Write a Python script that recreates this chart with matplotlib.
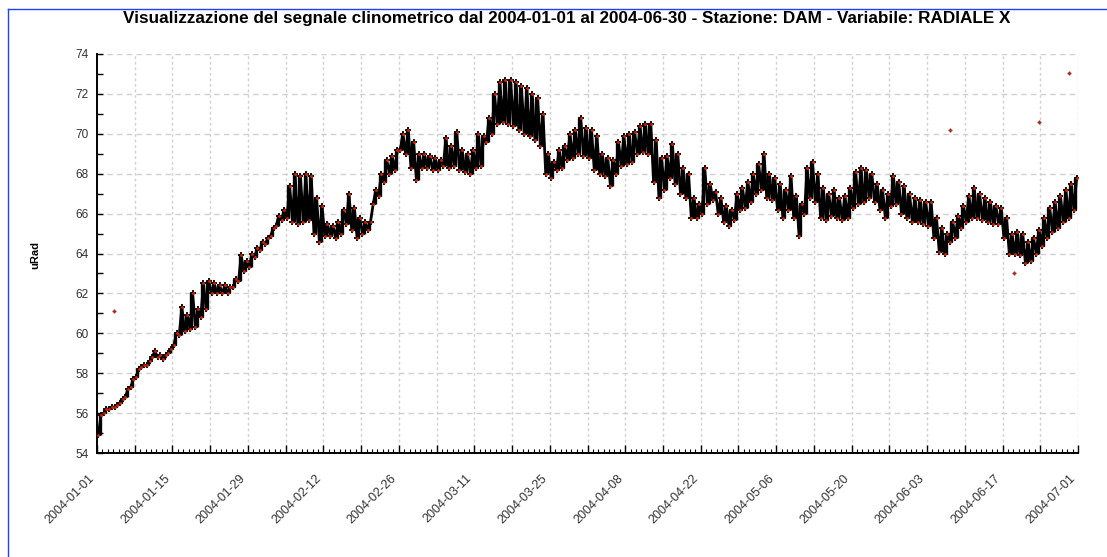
import numpy as np
import matplotlib
matplotlib.use("Agg")
import matplotlib.pyplot as plt
import matplotlib.dates as mdates
from matplotlib.lines import Line2D
from matplotlib.ticker import FixedLocator, MultipleLocator

plt.rcParams['font.family'] = ['Liberation Sans', 'DejaVu Sans']

# ---- data (daily low / high readings, uRad) ----
start_date = '2004-01-01'
day_low = [54.9, 56.0, 56.2, 56.3, 56.5, 56.8, 57.3, 57.8, 58.3, 58.4,
           58.8, 58.8, 58.7, 59.0, 59.4, 59.9, 60.1, 60.2, 60.3, 60.8,
           61.2, 62.0, 62.0, 62.0, 62.0, 62.3, 62.6, 63.1, 63.3, 63.8,
           64.2, 64.5, 64.9, 65.4, 65.7, 65.8, 65.6, 65.5, 65.6, 65.7,
           65.0, 64.6, 64.9, 64.9, 64.8, 65.0, 65.5, 65.2, 64.8, 65.0,
           65.2, 66.5, 66.9, 67.6, 68.0, 68.2, 69.2, 69.0, 68.3, 67.7,
           68.3, 68.3, 68.2, 68.2, 68.4, 68.3, 68.4, 68.2, 68.1, 68.0,
           68.3, 68.4, 69.6, 70.0, 70.5, 70.6, 70.5, 70.4, 70.2, 70.0,
           69.9, 69.7, 69.4, 68.0, 67.8, 68.2, 68.3, 68.7, 68.8, 69.0,
           68.9, 68.8, 68.2, 68.0, 67.9, 67.4, 68.0, 68.4, 68.5, 68.6,
           69.0, 69.1, 69.0, 67.6, 66.8, 67.2, 67.8, 67.5, 67.0, 66.8,
           65.8, 65.8, 66.0, 66.5, 66.7, 66.0, 65.6, 65.4, 65.7, 66.2,
           66.3, 66.6, 67.0, 67.2, 66.8, 66.7, 66.2, 65.8, 66.2, 65.8,
           64.9, 66.0, 66.8, 66.6, 65.8, 65.7, 65.9, 65.8, 65.7, 65.8,
           66.3, 66.5, 66.6, 66.8, 66.6, 66.2, 65.8, 66.4, 66.5, 66.0,
           65.8, 65.6, 65.6, 65.5, 65.4, 64.8, 64.1, 64.0, 64.6, 64.8,
           65.3, 65.6, 65.8, 65.8, 65.7, 65.6, 65.5, 65.5, 64.8, 64.0,
           64.0, 63.9, 63.5, 63.6, 64.0, 64.4, 64.8, 65.1, 65.3, 65.6,
           65.8, 66.2]
day_high = [55.9, 56.2, 56.3, 56.4, 56.7, 57.2, 57.7, 58.2, 58.4, 58.6,
            59.1, 58.9, 58.9, 59.2, 60.0, 61.3, 60.9, 62.0, 61.2, 62.5,
            62.6, 62.5, 62.4, 62.4, 62.3, 62.7, 63.9, 63.6, 64.0, 64.3,
            64.6, 64.8, 65.3, 65.9, 66.2, 67.4, 68.0, 67.9, 68.0, 67.9,
            66.8, 66.4, 65.5, 65.4, 65.6, 66.2, 67.0, 66.3, 65.8, 65.6,
            65.6, 67.2, 68.0, 68.7, 68.9, 69.2, 70.0, 70.2, 69.6, 69.0,
            69.0, 68.9, 68.8, 68.7, 69.8, 69.4, 70.1, 69.2, 69.0, 69.2,
            70.0, 69.9, 70.8, 72.0, 72.6, 72.7, 72.7, 72.6, 72.4, 72.3,
            72.0, 71.8, 71.0, 69.0, 68.6, 69.2, 69.4, 70.0, 70.2, 70.8,
            70.3, 70.2, 69.9, 69.0, 68.8, 68.7, 69.6, 69.9, 70.0, 70.1,
            70.4, 70.5, 70.5, 69.7, 68.8, 68.9, 69.5, 69.0, 68.3, 68.0,
            66.8, 66.5, 68.3, 67.5, 67.1, 66.8, 66.4, 66.2, 67.0, 67.3,
            67.6, 68.0, 68.5, 69.0, 68.0, 67.8, 67.5, 67.2, 67.9, 66.9,
            66.5, 68.3, 68.6, 68.0, 67.3, 67.0, 67.2, 66.8, 66.9, 67.3,
            68.1, 68.3, 68.2, 68.0, 67.5, 67.2, 67.0, 67.9, 67.6, 67.4,
            67.0, 66.8, 66.7, 66.6, 66.6, 65.8, 65.3, 65.0, 65.6, 65.9,
            66.4, 66.9, 67.3, 67.0, 66.8, 66.6, 66.4, 66.3, 65.8, 65.0,
            65.1, 65.0, 64.6, 64.8, 65.2, 65.8, 66.3, 66.6, 66.9, 67.2,
            67.5, 67.8]
outlier_times = ['2004-01-04T02:00', '2004-06-07T07:00', '2004-06-19T02:00',
                 '2004-06-23T19:00', '2004-06-29T07:00']
outlier_vals = [61.1, 70.2, 63.0, 70.6, 73.05]

title = ("Visualizzazione del segnale clinometrico dal 2004-01-01 al 2004-06-30 "
         "- Stazione: DAM - Variabile: RADIALE X")
ylabel = "uRad"

# ---- figure ----
W, H = 1107, 557
fig = plt.figure(figsize=(W / 100, H / 100), dpi=100)
ax = fig.add_axes([97 / W, 1 - 453 / H, (1078 - 97) / W, (453 - 54) / H])

t0 = np.datetime64(start_date)
n = len(day_low)
base = t0 + np.arange(n).astype('timedelta64[D]')
t_lo = mdates.date2num((base + np.timedelta64(6, 'h')).astype('datetime64[m]').astype(object))
t_hi = mdates.date2num((base + np.timedelta64(18, 'h')).astype('datetime64[m]').astype(object))
t_mid = mdates.date2num((base + np.timedelta64(12, 'h')).astype('datetime64[m]').astype(object))
lo = np.array(day_low)
hi = np.array(day_high)

# zig-zag through the daily low / high readings
zx = np.empty(2 * n)
zy = np.empty(2 * n)
zx[0::2], zx[1::2] = t_lo, t_hi
zy[0::2], zy[1::2] = lo, hi

ax.vlines(t_mid, lo, hi, colors='black', linewidth=2.4, zorder=3)
ax.plot(zx, zy, color='black', linewidth=2.0, zorder=3,
        solid_joinstyle='round', solid_capstyle='round')
ax.plot(zx, zy, linestyle='none', marker='+', color='black',
        markersize=4.5, markeredgewidth=1.3, zorder=4)
ax.plot(zx, zy, linestyle='none', marker='.', color='#d02000',
        markersize=2.2, zorder=5)

ot = mdates.date2num(np.array(outlier_times, dtype='datetime64[m]').astype(object))
ax.plot(ot, outlier_vals, linestyle='none', marker='+', color='#444444',
        markersize=3.5, markeredgewidth=1.0, zorder=4)
ax.plot(ot, outlier_vals, linestyle='none', marker='.', color='#d02000',
        markersize=2.0, zorder=5)

# axes limits
x0 = mdates.date2num(t0.astype(object))
ax.set_xlim(x0, x0 + 182)
ax.set_ylim(54, 74)

# ticks
week_ticks = [x0 + 7 * k for k in range(27)]
ax.xaxis.set_major_locator(FixedLocator(week_ticks))
ax.xaxis.set_minor_locator(FixedLocator([x0 + k for k in range(183)]))
labels = []
for k in range(27):
    if k % 2 == 0:
        labels.append(mdates.num2date(x0 + 7 * k).strftime('%Y-%m-%d'))
    else:
        labels.append('')
ax.set_xticklabels(labels, rotation=45, ha='right', fontsize=9, color='#333333')
ax.yaxis.set_major_locator(MultipleLocator(2))
ax.yaxis.set_minor_locator(MultipleLocator(1))
ax.tick_params(axis='x', which='major', direction='in', length=6, width=1,
               pad=14, labelsize=9, labelcolor='#333333')
ax.tick_params(axis='x', which='minor', direction='in', length=3, width=0.8)
ax.tick_params(axis='y', which='major', direction='in', length=4, width=1,
               pad=6, labelsize=8.5, labelcolor='#333333')
ax.tick_params(axis='y', which='minor', direction='in', length=4, width=1)

# grid
ax.grid(False)
for y in range(56, 75, 2):
    ax.axhline(y, color='#d0d0d0', linewidth=1.0, linestyle=(0, (4, 3)), zorder=1)
for xv in week_ticks[1:]:
    ax.axvline(xv, color='#d0d0d0', linewidth=1.0, linestyle=(0, (2, 2)), zorder=1)

for s in ['top', 'right']:
    ax.spines[s].set_visible(False)
for s in ['left', 'bottom']:
    ax.spines[s].set_linewidth(1.4)
    ax.spines[s].set_color('black')

# texts
fig.text(567 / W, 1 - 18 / H, title, ha='center', va='center',
         fontsize=12.3, fontweight='bold', color='black')
fig.text(35 / W, 1 - 255 / H, ylabel, ha='center', va='center', rotation=90,
         fontsize=8, fontweight='bold', color='black')

# blue frame of the page container
fig.add_artist(Line2D([8 / W, 8 / W], [0, 1 - 9 / H], color='#2040ff',
                      linewidth=1.0, transform=fig.transFigure))
fig.add_artist(Line2D([8 / W, 1], [1 - 9 / H, 1 - 9 / H], color='#2040ff',
                      linewidth=1.0, transform=fig.transFigure))

fig.savefig('out.png', dpi=100)
